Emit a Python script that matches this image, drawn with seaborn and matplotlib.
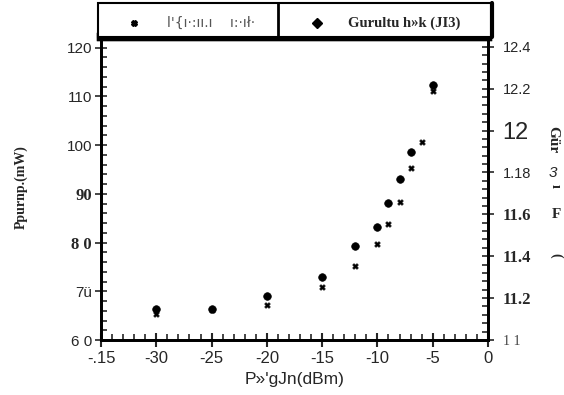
import matplotlib
matplotlib.use("Agg")
import matplotlib.pyplot as plt
import seaborn as sns
import pandas as pd
from matplotlib.patches import Rectangle
from matplotlib.lines import Line2D
from matplotlib.ticker import MultipleLocator

# ---- data ----
x_pump = [-30, -25, -20, -15, -12, -10, -9, -8, -7, -6, -5]
p_pump = [65.3, 66.1, 67.2, 70.9, 75.2, 79.7, 83.8, 88.3, 95.4, 100.6, 111.1]
x_nf = [-30, -25, -20, -15, -12, -10, -9, -8, -7, -5]
nf_db = [11.15, 11.15, 11.21, 11.30, 11.45, 11.54, 11.655, 11.77, 11.90, 12.22]

x_ticks = [-35, -30, -25, -20, -15, -10, -5, 0]
x_tick_labels = ["-.15", "-30", "-25", "-20", "-15", "-10", "-5", "0"]
y_ticks = [60, 70, 80, 90, 100, 110, 120]
y_tick_labels = ["6 0", "7ü", "8 0", "90", "100", "110", "120"]
y2_ticks = [11.0, 11.2, 11.4, 11.6, 11.8, 12.0, 12.2, 12.4]
y2_tick_labels = ["1 1", "11.2", "11.4", "11.6", "1.18", "12", "12.2", "12.4"]

legend_pump = "l'{ı·:ıı.ı    ı:·ıł·"
legend_nf = "Gurultu h»k (JI3)"
x_label = "P»'gJn(dBm)"
y_label = "Ppurnp.(mW)"

df_p = pd.DataFrame({"x": x_pump, "y": p_pump})
df_n = pd.DataFrame({"x": x_nf, "y": nf_db})

sns.set_style("white")
plt.rcParams["font.family"] = ["Liberation Sans", "DejaVu Sans"]

W, H = 564, 395
fig = plt.figure(figsize=(W / 100, H / 100), dpi=100)
L, R, B, T = 101, 488, 340, 37
ax = fig.add_axes([L / W, 1 - B / H, (R - L) / W, (B - T) / H])
ax2 = ax.twinx()

sns.scatterplot(data=df_p, x="x", y="y", ax=ax, marker="X", s=18, color="black",
                edgecolor="black", linewidth=0.3, zorder=3, legend=False)
sns.scatterplot(data=df_n, x="x", y="y", ax=ax2, marker="o", s=30, color="black",
                edgecolor="black", linewidth=0.5, zorder=4, legend=False)

ax.set_xlim(-35, 0)
ax.set_ylim(60, 122.2)
ax2.set_ylim(11.0, 12.447)

ax.set_xticks(x_ticks)
ax.set_xticklabels(x_tick_labels)
ax.set_yticks(y_ticks)
ax.set_yticklabels(y_tick_labels)
ax2.set_yticks(y2_ticks)
ax2.set_yticklabels(y2_tick_labels)
ax.xaxis.set_minor_locator(MultipleLocator(1))
ax.yaxis.set_minor_locator(MultipleLocator(2))
ax2.yaxis.set_minor_locator(MultipleLocator(0.04))

ax.set_xlabel(x_label, fontsize=12.5, labelpad=4, family="Liberation Sans")
ax.set_ylabel("")
ax2.set_ylabel("")

for a in (ax, ax2):
    for s in a.spines.values():
        s.set_linewidth(2)
        s.set_color("black")
ax.spines["top"].set_linewidth(6)
ax2.spines["top"].set_linewidth(6)

ax.tick_params(axis="x", which="major", direction="inout", length=10, width=1.5,
               labelsize=12, pad=3, bottom=True)
ax.tick_params(axis="x", which="minor", direction="in", length=4, width=1.2, bottom=True)
ax.tick_params(axis="y", which="major", direction="inout", length=9, width=1.2,
               labelsize=11, pad=2, left=True)
ax.tick_params(axis="y", which="minor", direction="in", length=4, width=1.2, left=True)
ax2.tick_params(axis="y", which="major", direction="inout", length=9, width=1.2,
                labelsize=10.5, pad=6, right=True)
ax2.tick_params(axis="y", which="minor", direction="in", length=4, width=1.2, right=True)

# per-label font styling to match the scan
for t in ax.get_yticklabels():
    if t.get_text() in ("8 0", "90"):
        t.set_family("Liberation Serif")
        t.set_fontweight("bold")
        t.set_fontsize(12)
for t in ax2.get_yticklabels():
    txt = t.get_text()
    if txt in ("11.2", "11.4", "11.6"):
        t.set_family("Liberation Serif")
        t.set_fontweight("bold")
        t.set_fontsize(12)
    elif txt == "12":
        t.set_fontsize(17)
    elif txt == "1 1":
        t.set_family("Liberation Serif")
        t.set_fontsize(10)
        t.set_color("#444444")

# left y label
fig.text(21 / W, 1 - 187 / H, y_label, rotation=90, ha="center", va="center",
         family="Liberation Serif", fontweight="bold", fontsize=10)

# right y label fragments
fig.text(553 / W, 1 - 140 / H, "Gür", rotation=270, ha="center", va="center",
         family="Liberation Serif", fontweight="bold", fontsize=11)
fig.text(553 / W, 1 - 173 / H, "3", ha="center", va="center",
         fontstyle="italic", fontsize=11)
fig.text(555 / W, 1 - 186 / H, "ı", rotation=270, ha="center", va="center",
         family="Liberation Serif", fontweight="bold", fontsize=10)
fig.text(556 / W, 1 - 215 / H, "F", ha="center", va="center",
         family="Liberation Serif", fontweight="bold", fontsize=11)
fig.text(556 / W, 1 - 255 / H, "(", rotation=270, ha="center", va="center",
         family="Liberation Serif", fontweight="bold", fontsize=10)

# legend box drawn above the axes
lx0, lx1, ly0, ly1 = 98, 492, 3, 37
fig.patches.append(Rectangle((lx0 / W, 1 - ly1 / H), (lx1 - lx0) / W, (ly1 - ly0) / H,
                             transform=fig.transFigure, facecolor="white",
                             edgecolor="black", linewidth=1.5, zorder=5))
fig.lines.append(Line2D([278 / W, 278 / W], [1 - ly1 / H, 1 - ly0 / H],
                        transform=fig.transFigure, color="black", linewidth=2, zorder=6))
fig.lines.append(Line2D([lx1 / W, lx1 / W], [1 - ly1 / H, 1 - ly0 / H],
                        transform=fig.transFigure, color="black", linewidth=3, zorder=6))
fig.lines.append(Line2D([134 / W], [1 - 23 / H], transform=fig.transFigure,
                        marker="X", markersize=4, color="black", linestyle="none", zorder=6))
fig.text(167 / W, 1 - 23 / H, legend_pump, ha="left", va="center", fontsize=10,
         color="#555555", zorder=6, family=["DejaVu Sans"])
fig.lines.append(Line2D([317 / W], [1 - 23 / H], transform=fig.transFigure,
                        marker="D", markersize=5, color="black", linestyle="none", zorder=6))
fig.text(348 / W, 1 - 23 / H, legend_nf, ha="left", va="center", fontsize=10.5,
         family="Liberation Serif", fontweight="bold", zorder=6)

fig.savefig("out.png", dpi=100)
